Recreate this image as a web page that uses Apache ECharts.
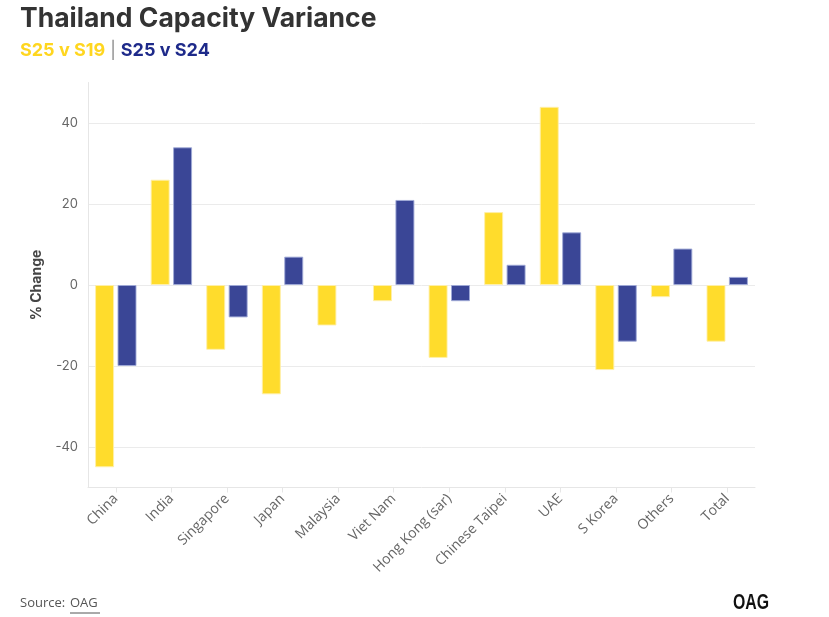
<!DOCTYPE html>
<html>
<head>
<meta charset="utf-8">
<script src="https://cdn.jsdelivr.net/npm/echarts@6/dist/echarts.min.js"></script>
<style>html,body{margin:0;padding:0;background:#fff;}#c{width:829px;height:617px;}</style>
</head>
<body>
<div id="c"></div>
<script>
const categories = ['China','India','Singapore','Japan','Malaysia','Viet Nam','Hong Kong (sar)','Chinese Taipei','UAE','S Korea','Others','Total'];
const s25vS19 = [-45, 26, -16, -27, -10, -4, -18, 18, 44, -21, -3, -14];
const s25vS24 = [-20, 34, -8, 7, 0, 21, -4, 5, 13, -14, 9, 2];
const yTicks = [-40, -20, 0, 20, 40];

const noBorderForZero = arr => arr.map(v => v === 0 ? {value: v, itemStyle: {borderWidth: 0, opacity: 0}} : v);

const chart = echarts.init(document.getElementById('c'), null, {renderer: 'canvas'});
chart.setOption({
  animation: false,
  backgroundColor: '#fff',
  title: [{
    text: 'Thailand Capacity Variance',
    left: 15, top: 1,
    textStyle: {fontFamily: 'Inter', fontWeight: 'bold', fontSize: 26.5, color: '#333'}
  }, {
    text: '{a|S25 v S19} {b||} {c|S25 v S24}',
    left: 15, top: 37,
    textStyle: {
      rich: {
        a: {fontFamily: 'Inter', fontWeight: 'bold', fontSize: 18, color: '#FFD61F'},
        b: {fontFamily: 'Inter', fontWeight: 'normal', fontSize: 17, color: '#888'},
        c: {fontFamily: 'Inter', fontWeight: 'bold', fontSize: 18, color: '#1E2A8A'}
      }
    }
  }],
  grid: {left: 88, right: 74, top: 82.5, bottom: 129.5},
  xAxis: {
    type: 'category',
    data: categories,
    axisLine: {show: true, onZero: false, lineStyle: {color: '#e6e6e6'}},
    axisTick: {show: true, alignWithLabel: true, length: 5, lineStyle: {color: '#e6e6e6'}},
    axisLabel: {rotate: 45, interval: 0, color: '#666', fontFamily: 'Open Sans', fontSize: 14, margin: 9},
    splitLine: {show: false}
  },
  yAxis: {
    type: 'value',
    min: -50, max: 50, interval: 10,
    name: '% Change',
    nameLocation: 'middle',
    nameGap: 44,
    nameTextStyle: {fontFamily: 'Inter', fontWeight: 'bold', fontSize: 14, color: '#444'},
    axisLine: {show: true, lineStyle: {color: '#e6e6e6'}},
    axisTick: {show: false},
    axisLabel: {
      color: '#666', fontFamily: 'Inter', fontSize: 13, margin: 10,
      formatter: v => yTicks.indexOf(v) >= 0 ? String(v) : ''
    },
    splitLine: {show: true, lineStyle: {color: ['rgba(0,0,0,0)', '#ebebeb'], width: 1}}
  },
  series: [{
    name: 'S25 v S19',
    type: 'bar',
    data: noBorderForZero(s25vS19),
    barWidth: 19,
    barGap: '18%',
    itemStyle: {color: '#FFDC2C', borderColor: 'rgba(255,240,170,0.9)', borderWidth: 1}
  }, {
    name: 'S25 v S24',
    type: 'bar',
    data: noBorderForZero(s25vS24),
    barWidth: 19,
    itemStyle: {color: '#3A4696', borderColor: 'rgba(160,170,215,0.9)', borderWidth: 1}
  }],
  graphic: [{
    type: 'text', left: 20, top: 597,
    style: {text: 'Source: ', fill: '#555', font: '13px "Open Sans"'}
  }, {
    type: 'text', left: 70, top: 597,
    style: {text: 'OAG', fill: '#555', font: '13px "Open Sans"'}
  }, {
    type: 'line', shape: {x1: 70, y1: 613, x2: 100, y2: 613},
    style: {stroke: '#555', lineWidth: 1}
  }, {
    type: 'text', x: 733, y: 592, scaleX: 0.72,
    style: {text: 'OAG', fill: '#111', font: 'bold 22px "Liberation Sans"'}
  }]
});
</script>
</body>
</html>
